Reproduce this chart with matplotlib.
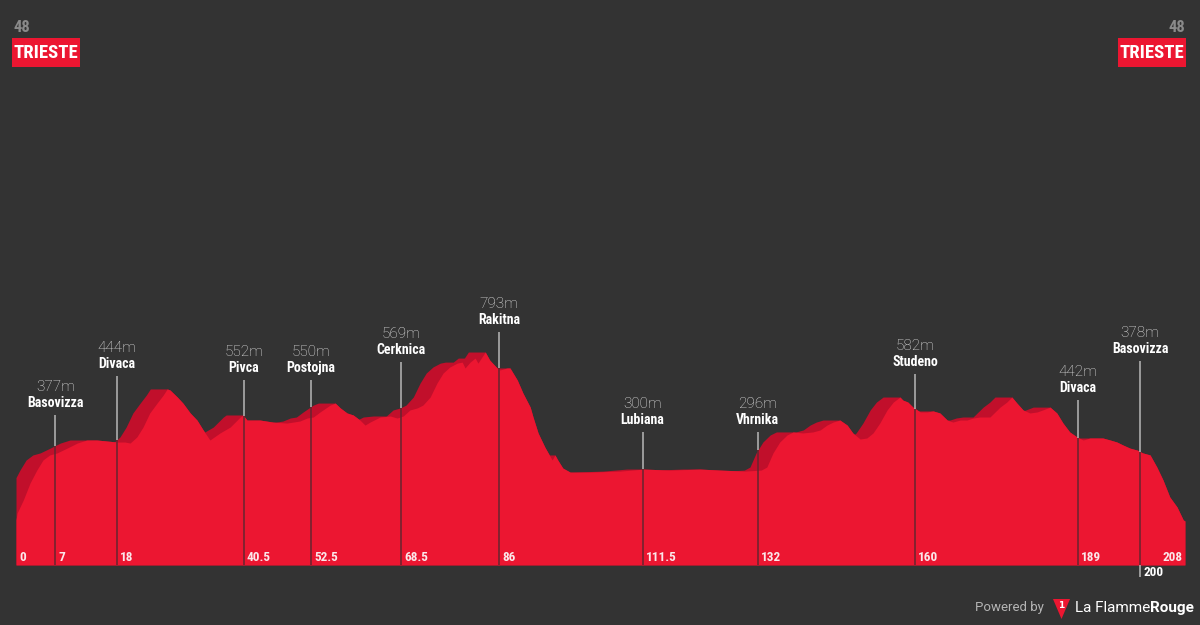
import numpy as np
import matplotlib.pyplot as plt
from matplotlib import font_manager
from matplotlib.font_manager import FontProperties
from matplotlib.patches import Rectangle, Polygon

# ---------------------------------------------------------------------
# data: elevation profile (km, m)
# ---------------------------------------------------------------------
profile_km = [0, 0.2, 1.3, 2.5, 3.7, 4.8, 6.0, 7.3, 9.1, 10.9, 12.6, 14.4, 16.2, 18.0,
              19.4, 20.3, 21.5, 22.6, 23.8, 25.1, 26.2, 26.9, 27.4, 28.7, 29.7, 31.0,
              32.2, 33.3, 34.5, 36.3, 38.1, 39.9, 40.4, 41.1, 43.4, 45.7, 48.2, 50.5,
              51.8, 52.9, 54.1, 55.9, 56.8, 57.7, 58.9, 60.0, 61.2, 62.1, 63.0, 64.8,
              66.6, 67.8, 68.9, 70.1, 71.4, 72.4, 73.7, 74.9, 76.0, 77.2, 78.5, 79.4,
              79.9, 80.8, 81.7, 82.2, 82.9, 83.5, 84.3, 85.6, 86.1, 87.4, 87.9, 89.2,
              90.2, 91.5, 92.0, 92.9, 94.1, 95.4, 95.9, 96.4, 97.3, 98.6, 102.1, 107.5,
              111.7, 116.4, 121.7, 125.3, 129.7, 132.6, 133.6, 134.7, 135.9, 137.2,
              138.3, 140.0, 141.8, 143.1, 144.3, 145.4, 146.6, 147.9, 148.9, 150.2,
              151.4, 152.5, 153.7, 155.0, 156.1, 157.3, 157.8, 158.7, 159.6, 160.9,
              162.1, 163.2, 164.4, 165.7, 166.7, 168.0, 169.2, 170.3, 171.5, 173.3,
              175.1, 176.3, 177.2, 178.1, 179.2, 180.4, 181.7, 182.7, 184.0, 185.2,
              186.3, 187.5, 188.8, 189.9, 191.1, 192.4, 193.4, 194.7, 195.9, 197.0,
              198.2, 199.5, 200.5, 201.8, 203.0, 204.1, 205.3, 206.6, 207.7, 208.0]
profile_m = [50, 84, 149, 233, 297, 347, 372, 382, 406, 431, 446, 446, 441, 436,
             436, 431, 461, 510, 580, 629, 669, 699, 694, 659, 629, 580,
             545, 496, 446, 481, 510, 560, 570, 545, 545, 535, 530, 540,
             555, 560, 585, 619, 629, 605, 580, 570, 545, 520, 535, 560,
             565, 555, 565, 595, 605, 619, 659, 728, 778, 808, 827, 832,
             803, 832, 852, 827, 857, 882, 842, 803, 793, 803, 803, 743,
             679, 609, 560, 481, 411, 347, 372, 347, 307, 287, 287, 292,
             302, 297, 302, 297, 292, 297, 312, 382, 436, 471,
             486, 481, 486, 496, 520, 535, 545, 520, 481, 451,
             456, 481, 530, 595, 634, 659, 644, 634, 609, 585,
             585, 590, 580, 545, 535, 545, 545, 555, 560, 560,
             609, 634, 659, 629, 595, 580, 585, 595, 609, 580,
             530, 486, 461, 446, 456, 456, 456, 446, 436, 421,
             406, 396, 382, 372, 312, 248, 164, 114, 50, 45]

# named points along the route
point_km = [7, 18, 40.5, 52.5, 68.5, 86, 111.5, 132, 160, 189, 200]
point_names = ["Basovizza", "Divaca", "Pivca", "Postojna", "Cerknica", "Rakitna",
               "Lubiana", "Vhrnika", "Studeno", "Divaca", "Basovizza"]
point_elev = [377, 444, 552, 550, 569, 793, 300, 296, 582, 442, 378]

km_labels = [0, 7, 18, 40.5, 52.5, 68.5, 86, 111.5, 132, 160, 189, 200, 208]

stage_no = "48"
start_town = "TRIESTE"
finish_town = "TRIESTE"

# ---------------------------------------------------------------------
# styling / layout
# ---------------------------------------------------------------------
BG = "#333333"
RED = "#ec1631"
RED_DARK = "#c10f2b"
GRID_LIGHT = "#b8b8b8"
GRID_DARK = "#66252f"


def _w(f):
    w = f.weight
    return w if isinstance(w, int) else font_manager.weight_dict.get(w, 400)


def pick_bold_condensed():
    # look for a narrow bold face, else fall back to Roboto bold
    ttf = font_manager.fontManager.ttflist
    prefs = ["Roboto Condensed", "Open Sans Condensed", "Noto Sans Condensed",
             "Liberation Sans Narrow", "DejaVu Sans Condensed"]
    for name in prefs:
        for f in ttf:
            if f.name == name and _w(f) >= 600 and f.style == "normal":
                return f.fname
    for f in ttf:
        if (f.stretch in ("condensed", "semi-condensed", "extra-condensed")
                and _w(f) >= 600 and f.style == "normal"
                and f.name in ("Noto Sans", "Open Sans", "DejaVu Sans", "Roboto")):
            return f.fname
    for f in ttf:
        if f.name == "Roboto" and _w(f) == 700 and f.style == "normal":
            return f.fname
    return font_manager.findfont(FontProperties(family="DejaVu Sans", weight="bold"))


COND_FILE = pick_bold_condensed()
THIN = "Roboto"


def cond(size):
    return FontProperties(fname=COND_FILE, size=size)


# height (m, chart units) where each label line ends
label_top = [570, 763, 743, 743, 832, 981, 486, 486, 773, 644, 837]

BASE = -173          # bottom of the filled area
SHADOW_KM = 3.0      # width of the darker "3D" layer

fig = plt.figure(figsize=(12, 6.25), dpi=100, facecolor=BG)
ax = fig.add_axes([0, 0, 1, 1])
ax.set_facecolor(BG)
ax.set_xlim(-2.847, 210.68)
ax.set_ylim(-470.7, 2626.4)
ax.axis("off")

km = np.array(profile_km)
elev = np.array(profile_m)

# darker layer: forward running max of the profile
grid = np.linspace(0, 208, 2081)
fine = np.interp(grid, km, elev)
w = int(SHADOW_KM / (grid[1] - grid[0]))
padded = np.concatenate([fine, np.full(w, fine[-1])])
dark = np.lib.stride_tricks.sliding_window_view(padded, w + 1)[:len(grid)].max(axis=1)

ax.fill_between(grid, BASE, dark, color=RED_DARK, lw=0, zorder=1)
ax.fill_between(km, BASE, elev, color=RED, lw=0, zorder=2)

# vertical marker lines + labels
for k, name, e, top in zip(point_km, point_names, point_elev, label_top):
    surf = max(np.interp(k, km, elev), np.interp(k, grid, dark))
    ax.plot([k, k], [surf, top], color=GRID_LIGHT, lw=1.1, zorder=3,
            solid_capstyle="butt")
    ax.plot([k, k], [BASE, surf], color=GRID_DARK, lw=1.1, zorder=3,
            solid_capstyle="butt")
    ax.annotate(name, (k, top), xytext=(0, 8.6), textcoords="offset points",
                ha="center", va="center", color="white",
                fontproperties=cond(10), zorder=4)
    ax.annotate(f"{e}m", (k, top), xytext=(0, 20.4), textcoords="offset points",
                ha="center", va="center", color="#e6e6e6", fontsize=11,
                fontweight="light", family=THIN, zorder=4)

# km labels along the bottom
for k in km_labels:
    lab = f"{k:g}"
    if k == 200:
        ax.plot([k, k], [BASE, BASE - 60], color=GRID_LIGHT, lw=1.1, zorder=3,
                solid_capstyle="butt")
        ax.annotate(lab, (k, BASE), xytext=(2.4, -5.5), textcoords="offset points",
                    ha="left", va="center", color="white",
                    fontproperties=cond(9.5), zorder=4)
    elif k == 208:
        ax.annotate(lab, (k, BASE), xytext=(-1.5, 5), textcoords="offset points",
                    ha="right", va="center", color="#fbe7ea",
                    fontproperties=cond(9.5), zorder=4)
    else:
        ax.annotate(lab, (k, BASE), xytext=(2.2, 5), textcoords="offset points",
                    ha="left", va="center", color="#fbe7ea",
                    fontproperties=cond(9.5), zorder=4)


# header: stage number and town boxes
def px(x, y):
    return x / 1200, 1 - y / 625


fig.text(*px(14, 28), stage_no, ha="left", va="center", color="#8a8a8a",
         fontproperties=cond(12))
fig.text(*px(1185, 28), stage_no, ha="right", va="center", color="#8a8a8a",
         fontproperties=cond(12))

for x0, x1, town in [(12, 80, start_town), (1118, 1186, finish_town)]:
    fx0, fy0 = px(x0, 67)
    fx1, fy1 = px(x1, 38)
    fig.patches.append(Rectangle((fx0, fy0), fx1 - fx0, fy1 - fy0,
                                 transform=fig.transFigure, color=RED, lw=0))
    fig.text((fx0 + fx1) / 2, (fy0 + fy1) / 2, town, ha="center", va="center",
             color="white", fontproperties=cond(13.5))

# footer
fig.text(*px(1044, 608), "Powered by", ha="right", va="center", color="#b4b4b4",
         fontsize=9.5, family=THIN)
tri = [px(1053, 599), px(1070, 599), px(1061.5, 619)]
fig.patches.append(Polygon(tri, closed=True, transform=fig.transFigure,
                           color=RED, lw=0))
fig.text(*px(1061.5, 605), "1", ha="center", va="center", color="white",
         fontsize=6.5, fontweight="bold")
t = fig.text(*px(1075, 608), "La Flamme", ha="left", va="center", color="white",
             fontsize=11, family=THIN)
fig.canvas.draw()
bb = t.get_window_extent()
fig.text(bb.x1 / fig.bbox.width, px(0, 608)[1], "Rouge", ha="left", va="center",
         color="white", fontsize=11, fontweight="bold", family=THIN)

fig.savefig("out.png", dpi=100, facecolor=BG)
